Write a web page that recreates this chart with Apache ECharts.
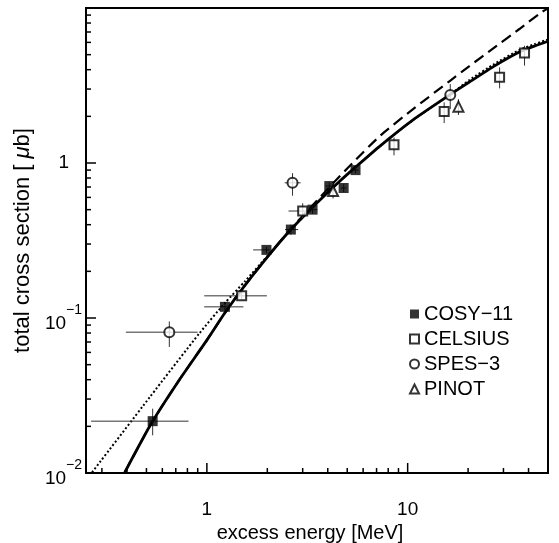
<!DOCTYPE html>
<html><head><meta charset="utf-8">
<script src="https://cdn.jsdelivr.net/npm/echarts@6/dist/echarts.min.js"></script>
<style>html,body{margin:0;padding:0;background:#fff}#c{width:559px;height:543px}</style>
</head><body><div id="c"></div>
<script>
// axis ranges and tick values
const xMin = 0.25, xMax = 50, yMin = 0.01, yMax = 10;
const xMajorTicks = [1,10];
const yMajorTicks = [0.1,1];
const xMinorTicks = [0.3,0.4,0.5,0.6,0.7,0.8,0.9,2,3,4,5,6,7,8,9,20,30,40];
const yMinorTicks = [0.02,0.03,0.04,0.05,0.06,0.07,0.08,0.09,0.2,0.3,0.4,0.5,0.6,0.7,0.8,0.9,2,3,4,5,6,7,8,9];

// theory curves
const solidX  = [0.39,0.53,0.73,1.0,1.23,1.55,2.0,2.56,3.37,4.6,5.5,7.3,10.6,16.2,20.3,27,36,43,50];
const solidY  = [0.0101,0.021,0.040,0.072,0.108,0.163,0.247,0.36,0.52,0.765,0.94,1.29,1.89,2.75,3.33,4.22,5.2,5.7,6.1];
const dashedX = [0.39,0.53,0.73,1.0,1.23,1.55,2.0,2.56,3.37,4.6,5.5,7.3,10.6,16.2,20.3,27,36,46.3,50];
const dashedY = [0.0101,0.021,0.040,0.072,0.108,0.163,0.247,0.364,0.536,0.824,1.046,1.50,2.22,3.38,4.22,5.56,7.32,9.38,9.95];
const dottedX = [0.268,0.52,0.92,1.23,1.55,2.0,2.56,3.37,4.6,5.5,7.3,10.6,16.2,20.3,27,36,43,50];
const dottedY = [0.0101,0.0309,0.080,0.125,0.173,0.251,0.36,0.52,0.765,0.94,1.29,1.89,2.75,3.43,4.35,5.36,5.86,6.26];

// data sets: value, x-range, y-range
const cosyX   = [0.537,1.23,1.98,2.62,3.36,4.07,4.8,5.5];
const cosyY   = [0.0216,0.118,0.275,0.372,0.50,0.71,0.69,0.90];
const cosyXlo = [0.265,0.97,1.70,2.45,3.2,3.9,4.65,5.3];
const cosyXhi = [0.81,1.52,2.05,2.85,3.55,4.25,4.95,5.7];
const cosyYlo = [0.0175,0.112,0.262,0.345,0.47,0.67,0.65,0.86];
const cosyYhi = [0.026,0.124,0.288,0.40,0.53,0.75,0.73,0.94];

const celX   = [1.49,3.0,8.55,15.2,28.7,38.2];
const celY   = [0.139,0.49,1.31,2.15,3.57,5.13];
const celXlo = [0.97,2.55,8.55,15.2,28.7,38.2];
const celXhi = [1.99,3.3,8.55,15.2,28.7,38.2];
const celYlo = [0.132,0.44,1.12,1.81,3.03,4.25];
const celYhi = [0.146,0.55,1.46,2.46,4.14,5.71];

const spesX   = [0.65,2.67,16.3];
const spesY   = [0.081,0.745,2.75];
const spesXlo = [0.395,2.44,16.3];
const spesXhi = [0.90,2.93,16.3];
const spesYlo = [0.065,0.615,2.23];
const spesYhi = [0.095,0.86,3.23];

const pinX   = [4.25,17.9];
const pinY   = [0.66,2.31];
const pinXlo = [4.25,17.9];
const pinXhi = [4.25,17.9];
const pinYlo = [0.59,2.04];
const pinYhi = [0.73,2.58];

const names = ['COSY\u221211','CELSIUS','SPES\u22123','PINOT'];

const FONT = "'Liberation Sans', Arial, sans-serif";
const zip = (a,b) => a.map((v,i)=>[v,b[i]]);
const errData = (x,y,xl,xh,yl,yh) => x.map((v,i)=>[v,y[i],xl[i],xh[i],yl[i],yh[i]]);

function segRender(color, width){
  return function(params, api){
    const x=api.value(0), y=api.value(1);
    const a=api.coord([api.value(2),y]), b=api.coord([api.value(3),y]);
    const c=api.coord([x,api.value(4)]), d=api.coord([x,api.value(5)]);
    const st={stroke:color,lineWidth:width};
    return {type:'group',children:[
      {type:'line',shape:{x1:a[0],y1:a[1],x2:b[0],y2:b[1]},style:st},
      {type:'line',shape:{x1:c[0],y1:c[1],x2:d[0],y2:d[1]},style:st}
    ]};
  };
}
const errRender = segRender('#333',1);
// tick length as a fraction of the plot size (log-space fraction of each axis)
const PLOT_W = 462, PLOT_H = 465;
const yTop = L => yMin*Math.pow(yMax/yMin, L/PLOT_H);
const xRight = L => xMin*Math.pow(xMax/xMin, L/PLOT_W);
const xTickItems = (vals,L) => vals.map(v=>[v,yMin,v,v,yMin,yTop(L)]);
const yTickItems = (vals,L) => vals.map(v=>[xMin,v,xMin,xRight(L),v,v]);
const tickData = xTickItems(xMinorTicks,5).concat(xTickItems(xMajorTicks,10))
  .concat(yTickItems(yMinorTicks,5)).concat(yTickItems(yMajorTicks,10));

const isPow = v => Math.abs(Math.log10(v)-Math.round(Math.log10(v)))<1e-6;

const chart = echarts.init(document.getElementById('c'));
chart.setOption({
  animation:false,
  backgroundColor:'#fff',
  grid:{left:86,right:11,top:8,bottom:70,show:true,borderColor:'#000',borderWidth:2,outerBoundsMode:'none'},
  legend:{
    orient:'vertical', left:404, top:299, itemWidth:9, itemHeight:9, itemGap:5,
    textStyle:{fontFamily:FONT,fontSize:20,color:'#000'},
    data:[{name:names[0],icon:'rect'},{name:names[1],icon:'emptyRect'},{name:names[2],icon:'emptyCircle'},{name:names[3],icon:'emptyTriangle'}]
  },
  xAxis:{
    type:'log', logBase:10, min:xMin, max:xMax,
    name:'excess energy [MeV]', nameLocation:'middle', nameGap:45,
    nameTextStyle:{fontFamily:FONT,fontSize:20,color:'#000',padding:[0,14,0,0]},
    axisLine:{show:true,lineStyle:{color:'#000',width:2}},
    axisTick:{show:false},
    splitLine:{show:false},
    axisLabel:{margin:27,fontFamily:FONT,fontSize:19,color:'#000',showMinLabel:false,showMaxLabel:false,
      formatter:v=>{ if(!isPow(v)) return ''; const e=Math.round(Math.log10(v)); return e===0?'1':(e===1?'10':''); }}
  },
  yAxis:{
    type:'log', logBase:10, min:yMin, max:yMax,
    name:'{n|total cross section [ }{m|\u03bc}{n|b]}', nameLocation:'middle', nameGap:37, nameRotate:90,
    nameTextStyle:{fontFamily:FONT,fontSize:22,color:'#000',
      rich:{n:{fontFamily:FONT,fontSize:22,color:'#000'},m:{fontFamily:FONT,fontSize:22,fontStyle:'italic',color:'#000'}}},
    axisLine:{show:true,lineStyle:{color:'#000',width:2}},
    axisTick:{show:false},
    splitLine:{show:false},
    axisLabel:{margin:4,fontFamily:FONT,fontSize:19,color:'#000',showMaxLabel:false,
      formatter:v=>{ if(!isPow(v)) return ''; const e=Math.round(Math.log10(v));
        if(e===0) return '{one|1}'; if(e<0) return '{b|10}{s|\u2212'+(-e)+'}'; return ''; },
      rich:{
        one:{fontFamily:FONT,fontSize:19,color:'#000',padding:[0,13,0,0]},
        b:{fontFamily:FONT,fontSize:19,color:'#000',lineHeight:30,verticalAlign:'bottom'},
        s:{fontFamily:FONT,fontSize:14,color:'#000',lineHeight:10,verticalAlign:'top'}
      }}
  },
  series:[
    {type:'line',data:zip(dottedX,dottedY),showSymbol:false,smooth:0.2,lineStyle:{color:'#000',width:2,type:[2,2.2]},z:3},
    {type:'line',data:zip(dashedX,dashedY),showSymbol:false,smooth:0.2,lineStyle:{color:'#000',width:2.2,type:[11,6]},z:3},
    {type:'line',data:zip(solidX,solidY),showSymbol:false,smooth:0.2,lineStyle:{color:'#000',width:2.8},z:4},
    {type:'custom',renderItem:errRender,data:errData(cosyX,cosyY,cosyXlo,cosyXhi,cosyYlo,cosyYhi),encode:{x:0,y:1},z:6},
    {type:'custom',renderItem:errRender,data:errData(celX,celY,celXlo,celXhi,celYlo,celYhi),encode:{x:0,y:1},z:6},
    {type:'custom',renderItem:errRender,data:errData(spesX,spesY,spesXlo,spesXhi,spesYlo,spesYhi),encode:{x:0,y:1},z:6},
    {type:'custom',renderItem:errRender,data:errData(pinX,pinY,pinXlo,pinXhi,pinYlo,pinYhi),encode:{x:0,y:1},z:6},
    {type:'custom',renderItem:segRender('#000',1.5),data:tickData,encode:{x:0,y:1},z:6},
    {name:names[0],type:'scatter',data:zip(cosyX,cosyY),symbol:'rect',symbolSize:10,itemStyle:{color:'#000'},z:8},
    {name:names[1],type:'scatter',data:zip(celX,celY),symbol:'emptyRect',symbolSize:9,itemStyle:{color:'#000',borderColor:'#000',borderWidth:1.4},z:8},
    {name:names[2],type:'scatter',data:zip(spesX,spesY),symbol:'emptyCircle',symbolSize:10,itemStyle:{color:'#000',borderColor:'#000',borderWidth:1.4},z:8},
    {name:names[3],type:'scatter',data:zip(pinX,pinY),symbol:'emptyTriangle',symbolSize:10,itemStyle:{color:'#000',borderColor:'#000',borderWidth:1.4},z:8}
  ]
});
</script></body></html>
